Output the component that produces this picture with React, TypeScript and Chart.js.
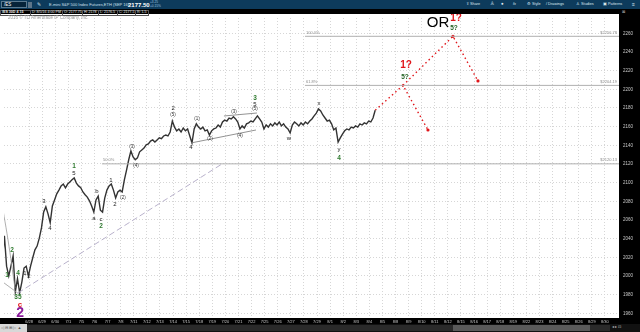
import React, { useEffect, useRef } from "react";
import { Chart, registerables } from "chart.js";

Chart.register(...registerables);

// ---------- data ----------
const DATES = [
  "6/27", "6/28", "6/29", "6/30", "7/1", "7/5", "7/6", "7/7", "7/8", "7/11", "7/12", "7/13", "7/14", "7/15",
  "7/18", "7/19", "7/20", "7/21", "7/22", "7/25", "7/26", "7/27", "7/28", "7/29", "8/1", "8/2", "8/3", "8/4",
  "8/5", "8/8", "8/9", "8/10", "8/11", "8/12", "8/15", "8/16", "8/17", "8/18", "8/19", "8/22", "8/23", "8/24",
  "8/25", "8/26", "8/29", "8/30", "8/31",
];
const X_MIN = -1.22;
const X_MAX = 46.08;
const Y_MIN = 1955;
const Y_MAX = 2280.7;
const Y_TICK_TOP = 2260;
const Y_TICK_BOTTOM = 1960;
const Y_TICK_STEP = 20;

const BAR_START = -1.22; // trading-day index of first bar
const BARS_PER_DAY = 6;
const PRICE = [
  2028, 2015, 2043, 2010.5, 2000, 2010.5, 2021.5, 1983, 1997, 1982,
  1993.5, 2008.5, 2010.5, 2000, 2010.5, 2019.5, 2028, 2032, 2040.5, 2051.5,
  2068.5, 2074, 2066.5, 2057, 2075, 2081.5, 2088, 2092, 2096.5, 2098.5,
  2094.5, 2098.5, 2100.75, 2103, 2105, 2099.5, 2096.5, 2094.5, 2090, 2087,
  2084.5, 2080.5, 2075, 2068.5, 2081.5, 2085.5, 2070.5, 2068.5, 2083.5, 2092,
  2096.5, 2098.5, 2092, 2083.5, 2090, 2092, 2090, 2103, 2113.5, 2124.5,
  2134, 2127.5, 2124.5, 2126.5, 2133, 2135, 2137, 2140.5, 2141.5, 2144.5,
  2145.75, 2143.5, 2145.75, 2148, 2147, 2150, 2151, 2150, 2154.25, 2166,
  2159.5, 2155.5, 2157.5, 2154.25, 2158.5, 2155.5, 2157.5, 2150, 2142.5, 2157.5,
  2163, 2159.5, 2157.5, 2159.5, 2155.5, 2156.5, 2151, 2155.5, 2157.5, 2158.5,
  2161.75, 2159.5, 2165, 2167, 2166, 2169.25, 2168.25, 2170.5, 2168.25, 2165,
  2157.5, 2160.75, 2158.5, 2163, 2164, 2166, 2165, 2168.25, 2171.5, 2168.25,
  2165, 2157.5, 2161.75, 2159.5, 2163, 2160.75, 2164, 2161.75, 2165, 2160.75,
  2163, 2159.5, 2157.5, 2153.25, 2161.75, 2165, 2163, 2160.75, 2164, 2161.75,
  2165, 2163, 2166, 2168.25, 2171.5, 2174.5, 2179, 2176.75, 2172.5, 2169.25,
  2166, 2167, 2163, 2156.5, 2158.5, 2143.5, 2148, 2152, 2155.5, 2157.5,
  2156.5, 2159.5, 2158.5, 2160.75, 2159.5, 2163, 2161.75, 2164, 2163, 2166,
  2165, 2169.25, 2177.5,
];

// projected paths (red dotted)
const PROJ_A_T = [27.45, 29.57, 31.48];
const PROJ_A_V = [2177.5, 2204.19, 2156.4];
const PROJ_B_T = [29.57, 33.39, 35.3];
const PROJ_B_V = [2204.19, 2256.78, 2209];

// fibonacci levels
const FIB_LEVEL = [2256.78, 2204.19, 2120.13];
const FIB_FROM = [22.08, 22.08, 6.57];
const FIB_NAME = ["100.0%", "61.8%", "50.0%"];

// drawn lines
const TREND_T = [0.15, 15.74];
const TREND_V = [1981.8, 2120.0];
const LEFT_A_T = [-1.22, 0.2];
const LEFT_A_V = [1995.7, 1981];
const LEFT_B_T = [-1.22, -0.61, -0.08];
const LEFT_B_V = [2088.9, 2038.6, 1987.1];
const TRI_UP_T = [15.89, 18.41];
const TRI_UP_V = [2171.4, 2174.6];
const TRI_LO_T = [13.37, 18.34];
const TRI_LO_V = [2142.5, 2156.4];

// wave labels: [text, day index, price]
const GREEN_LABELS: [string, number, number][] = [
  ["1", -0.69, 2000.9], ["2", -0.31, 2027.9], ["4", 0.15, 2003.2], ["35", 0.15, 1977.5],
  ["1", 4.43, 2117.9], ["2", 6.5, 2053.6], ["3", 18.26, 2190.7], ["4", 24.68, 2126.4],
];
const BLACK_LABELS: [string, number, number][] = [
  ["1", 0.69, 2003.2], ["2", 0.99, 2000.0], ["3", 2.14, 2080.4], ["4", 2.6, 2051.4],
  ["5", 4.43, 2110.4], ["a", 5.96, 2062.1], ["b", 6.19, 2091.1], ["c", 6.5, 2061.1],
  ["1", 7.26, 2102.9], ["2", 7.56, 2077.1], ["2", 12.0, 2180.0], ["4", 13.37, 2138.2],
  ["5", 18.26, 2184.3], ["w", 20.86, 2147.9], ["x", 23.15, 2185.4], ["y", 24.68, 2136.1],
];
const PAREN_LABELS: [string, number, number][] = [
  ["(2)", 8.18, 2083.6], ["(3)", 8.86, 2138.2], ["(4)", 9.17, 2117.9], ["(5)", 12.0, 2172.5],
  ["(1)", 13.83, 2168.2], ["(2)", 14.82, 2146.8], ["(3)", 16.66, 2175.7], ["(4)", 17.12, 2150.0],
  ["(5)", 18.26, 2178.9],
];
const PROJ_LABELS_RED: [string, number, number][] = [["1?", 29.8, 2226.1], ["1?", 33.62, 2276.4]];
const PROJ_LABELS_GREEN: [string, number, number][] = [["5?", 29.72, 2213.2], ["5?", 33.47, 2265.7]];
const OR_LABEL: [string, number, number] = ["OR", 32.25, 2271.1];
const RED_C_LABEL: [string, number, number] = ["c", 0.31, 1968.9];
const PURPLE_LABEL: [string, number, number] = ["2", 0.31, 1960.4];

const FONT = '"Liberation Sans", Arial, sans-serif';

// target canvas pixels for axis calibration (canvas starts 14px below page top)
const CAL_Y_TOP_PX = 19.3; // where 2260 sits
const CAL_Y_BOTTOM_PX = 299.3; // where 1960 sits
const CAL_X_FIRST_PX = 16; // first date
const CAL_X_LAST_PX = 618; // last date

const pts = (t: number[], v: number[]) => t.map((x, i) => ({ x, y: v[i] }));

const zeroPad = (s: any) => {
  s.paddingTop = 0;
  s.paddingBottom = 0;
  s.paddingLeft = 0;
  s.paddingRight = 0;
};

const overlayPlugin = {
  id: "overlay",
  beforeDraw(chart: any) {
    const { ctx, chartArea, width, height } = chart;
    ctx.save();
    ctx.fillStyle = "#ffffff";
    ctx.fillRect(chartArea.left, chartArea.top, chartArea.right - chartArea.left, chartArea.bottom - chartArea.top);
    ctx.fillStyle = "#000000";
    ctx.fillRect(chartArea.right, 0, width - chartArea.right, height);
    ctx.fillRect(0, chartArea.bottom, width, height - chartArea.bottom);
    ctx.restore();
  },
  afterDatasetsDraw(chart: any) {
    const { ctx, chartArea, scales } = chart;
    const xs = scales.x;
    const ys = scales.y;
    const put = (lab: [string, number, number], font: string, color: string) => {
      ctx.font = font;
      ctx.fillStyle = color;
      ctx.textAlign = "center";
      ctx.textBaseline = "middle";
      ctx.fillText(lab[0], xs.getPixelForValue(lab[1]), ys.getPixelForValue(lab[2]));
    };
    ctx.save();
    ctx.font = `4.5px ${FONT}`;
    ctx.fillStyle = "#9a9a9a";
    ctx.textAlign = "left";
    ctx.textBaseline = "middle";
    ctx.fillText("2016 © TD Ameritrade IP Company, Inc.", 8, 4);
    FIB_LEVEL.forEach((lv, i) => {
      const y = ys.getPixelForValue(lv);
      ctx.font = `4px ${FONT}`;
      ctx.fillStyle = "#8a8a8a";
      ctx.textAlign = "left";
      ctx.textBaseline = "bottom";
      ctx.fillText(FIB_NAME[i], xs.getPixelForValue(FIB_FROM[i]) + 1, y - 1.5);
      ctx.textAlign = "right";
      ctx.fillText("$" + lv.toFixed(2), chartArea.right - 2, y - 1.5);
    });
    GREEN_LABELS.forEach((l) => put(l, `bold 6.5px ${FONT}`, "#2f7a2f"));
    BLACK_LABELS.forEach((l) => put(l, `6px ${FONT}`, "#222222"));
    PAREN_LABELS.forEach((l) => put(l, `4.5px ${FONT}`, "#333333"));
    PROJ_LABELS_RED.forEach((l) => put(l, `bold 10px ${FONT}`, "#e0161b"));
    PROJ_LABELS_GREEN.forEach((l) => put(l, `bold 6.5px ${FONT}`, "#1f5f1f"));
    put(OR_LABEL, `15px ${FONT}`, "#000000");
    put(RED_C_LABEL, `bold 8px ${FONT}`, "#e0161b");
    put(PURPLE_LABEL, `bold 14px ${FONT}`, "#8a1a9a");
    ctx.restore();
  },
};

export default function App() {
  const ref = useRef<HTMLCanvasElement>(null);

  useEffect(() => {
    const prev = document.body.style.margin;
    document.body.style.margin = "0";
    const priceData = PRICE.map((v, k) => ({ x: BAR_START + k / BARS_PER_DAY, y: v }));
    const thin = (data: any[], color: string, width: number, dash: number[] = []) => ({
      data,
      borderColor: color,
      borderWidth: width,
      borderDash: dash,
      pointRadius: 0,
      fill: false,
      tension: 0,
    });
    const datasets: any[] = [
      ...FIB_LEVEL.map((lv, i) => thin([{ x: FIB_FROM[i], y: lv }, { x: X_MAX + 5, y: lv }], "#b0b0b0", 1)),
      thin(pts(TREND_T, TREND_V), "#b9b2cc", 1, [6, 3]),
      thin(pts(LEFT_A_T, LEFT_A_V), "#9a9a9a", 0.8),
      { ...thin(pts(LEFT_B_T, LEFT_B_V), "#9a9a9a", 0.8), tension: 0.4 },
      thin(pts(TRI_UP_T, TRI_UP_V), "#777777", 0.8),
      thin(pts(TRI_LO_T, TRI_LO_V), "#777777", 0.8),
      thin(priceData, "#333333", 1.4),
      {
        ...thin(pts(PROJ_A_T, PROJ_A_V), "#e0161b", 1.4, [1.5, 3]),
        pointRadius: [0, 1.2, 1.6],
        pointBackgroundColor: "#e0161b",
        pointBorderWidth: 0,
      },
      {
        ...thin(pts(PROJ_B_T, PROJ_B_V), "#e0161b", 1.4, [1.5, 3]),
        pointRadius: [0, 1.6, 1.6],
        pointBackgroundColor: "#e0161b",
        pointBorderWidth: 0,
      },
    ];

    const chart = new Chart(ref.current!, {
      type: "line",
      data: { datasets },
      options: {
        responsive: false,
        animation: false,
        maintainAspectRatio: false,
        layout: { padding: 0 },
        plugins: { legend: { display: false }, tooltip: { enabled: false } },
        scales: {
          x: {
            type: "linear",
            min: X_MIN,
            max: X_MAX,
            afterFit: (s: any) => {
              s.height = 6;
              zeroPad(s);
            },
            afterBuildTicks: (s: any) => {
              s.ticks = s.ticks.filter((t: any) => Number.isInteger(t.value) && t.value >= 0 && t.value < DATES.length);
            },
            grid: { color: "#d6d6d6", lineWidth: 1, drawTicks: false },
            border: { display: false, dash: [1, 2] },
            ticks: {
              stepSize: 1,
              autoSkip: false,
              maxRotation: 0,
              minRotation: 0,
              padding: 1,
              color: "#c8c8c8",
              font: { size: 4, family: FONT },
              callback: (v: any) => DATES[v] ?? "",
            },
          },
          y: {
            type: "linear",
            position: "right",
            min: Y_MIN,
            max: Y_MAX,
            afterFit: (s: any) => {
              s.width = 21;
              zeroPad(s);
            },
            afterBuildTicks: (s: any) => {
              const t: any[] = [];
              for (let v = Y_TICK_BOTTOM; v <= Y_TICK_TOP; v += Y_TICK_STEP) t.push({ value: v });
              s.ticks = t;
            },
            grid: { color: "#d6d6d6", lineWidth: 1, drawTicks: false },
            border: { display: false, dash: [1, 2] },
            ticks: {
              padding: 4,
              color: "#c8c8c8",
              font: { size: 4.5, family: FONT },
              callback: (v: any) => String(v),
            },
          },
        },
      },
      plugins: [overlayPlugin],
    } as any);

    // calibrate the axis ranges to the actual plot area
    const ca = chart.chartArea;
    const ky = (CAL_Y_BOTTOM_PX - CAL_Y_TOP_PX) / (Y_TICK_TOP - Y_TICK_BOTTOM);
    const kx = (CAL_X_LAST_PX - CAL_X_FIRST_PX) / (DATES.length - 1);
    const o: any = chart.options.scales;
    o.y.max = Y_TICK_TOP + (CAL_Y_TOP_PX - ca.top) / ky;
    o.y.min = Y_TICK_BOTTOM - (ca.bottom - CAL_Y_BOTTOM_PX) / ky;
    o.x.min = (ca.left - CAL_X_FIRST_PX) / kx;
    o.x.max = DATES.length - 1 + (ca.right - CAL_X_LAST_PX) / kx;
    chart.update("none");

    return () => {
      chart.destroy();
      document.body.style.margin = prev;
    };
  }, []);

  const abs = (x: number, y: number, extra: React.CSSProperties = {}): React.CSSProperties => ({
    position: "absolute",
    left: x,
    top: y,
    whiteSpace: "nowrap",
    lineHeight: 1,
    ...extra,
  });
  const cell = (x: number, w: number): React.CSSProperties =>
    abs(x, 9.5, { width: w, height: 4, border: "0.5px solid #555", fontSize: 3.6, color: "#e8e8e8", paddingLeft: 1 });

  return (
    <div
      style={{
        position: "fixed",
        left: 0,
        top: 0,
        width: 640,
        height: 332,
        background: "#ffffff",
        overflow: "hidden",
        fontFamily: FONT,
      }}
    >
      {/* toolbar */}
      <div style={abs(0, 0, { width: 640, height: 9, background: "#0d3b5c" })}>
        <div style={abs(1, 1, { width: 26, height: 7, background: "#06243a", border: "0.5px solid #5a7a90", color: "#fff", fontSize: 4.5, paddingLeft: 2, boxSizing: "border-box", paddingTop: 1 })}>/ES</div>
        <div style={abs(28, 1.5, { width: 4, height: 6, background: "#5d7588" })} />
        <div style={abs(37, 1.5, { color: "#cfe0ee", fontSize: 5 })}>✎</div>
        <div style={abs(49, 2.5, { color: "#cfe0ee", fontSize: 4 })}>E-mini S&amp;P 500 Index Futures,ETH (SEP 16)</div>
        <div style={abs(128, 1.8, { color: "#ffffff", fontSize: 6, fontWeight: "bold" })}>2177.50</div>
        <div style={abs(150, 0.8, { color: "#9fc3e0", fontSize: 3.2 })}>+3.25</div>
        <div style={abs(150, 4.6, { color: "#9fc3e0", fontSize: 3.2 })}>+0.15%</div>
        <div style={abs(466, 2.5, { color: "#dfe9f2", fontSize: 3.8 })}>⇪ Share</div>
        <div style={abs(490, 2, { color: "#dfe9f2", fontSize: 4.5 })}>♙</div>
        <div style={abs(501, 2, { color: "#dfe9f2", fontSize: 4.5 })}>●</div>
        <div style={abs(513, 2.5, { color: "#dfe9f2", fontSize: 3.8, fontStyle: "italic" })}>fx</div>
        <div style={abs(527, 2.5, { color: "#dfe9f2", fontSize: 3.8 })}>⚙ Style</div>
        <div style={abs(546, 2.5, { color: "#dfe9f2", fontSize: 3.8 })}>/ Drawings</div>
        <div style={abs(576, 2.5, { color: "#dfe9f2", fontSize: 3.8 })}>♙ Studies</div>
        <div style={abs(603, 2.5, { color: "#dfe9f2", fontSize: 3.8 })}>▣ Patterns</div>
        <div style={abs(632, 1.5, { color: "#dfe9f2", fontSize: 5 })}>≡</div>
      </div>
      {/* info bar */}
      <div style={abs(0, 9, { width: 640, height: 5, background: "#000000" })} />
      <div style={cell(0, 28)}>
        <b>/ES 30D 4 15</b>
      </div>
      <div style={cell(30, 30)}>D: 8/5/16 4:00 PM</div>
      <div style={cell(62, 18)}>O: 2177.75</div>
      <div style={cell(82, 14)}>H: 2178</div>
      <div style={cell(98, 17)}>L: 2176.5</div>
      <div style={cell(117, 16)}>C: 2177.5</div>
      <div style={cell(135, 11)}>R: 1.5</div>
      <div style={abs(622, 9.5, { color: "#bbb", fontSize: 4 })}>⊠</div>
      <canvas ref={ref} width={640} height={310} style={{ position: "absolute", left: 0, top: 14, display: "block" }} />
      {/* scroll bar */}
      <div style={abs(0, 324, { width: 640, height: 8, background: "#111111" })}>
        <div style={abs(0, 0, { width: 27, height: 8, background: "#d8d8d8", color: "#555", fontSize: 4, paddingTop: 2, paddingLeft: 1, boxSizing: "border-box" })}>◁ ⊟ ⊞ ▷ ▲</div>
        <div style={abs(27, 1, { width: 583, height: 6, background: "#2a2a2a" })} />
        <div style={abs(453, 1, { width: 137, height: 6, background: "#5a5a5a" })} />
        <div style={abs(612, 1, { color: "#bbb", fontSize: 4 })}>◂ ▸ ⊡</div>
      </div>
    </div>
  );
}
